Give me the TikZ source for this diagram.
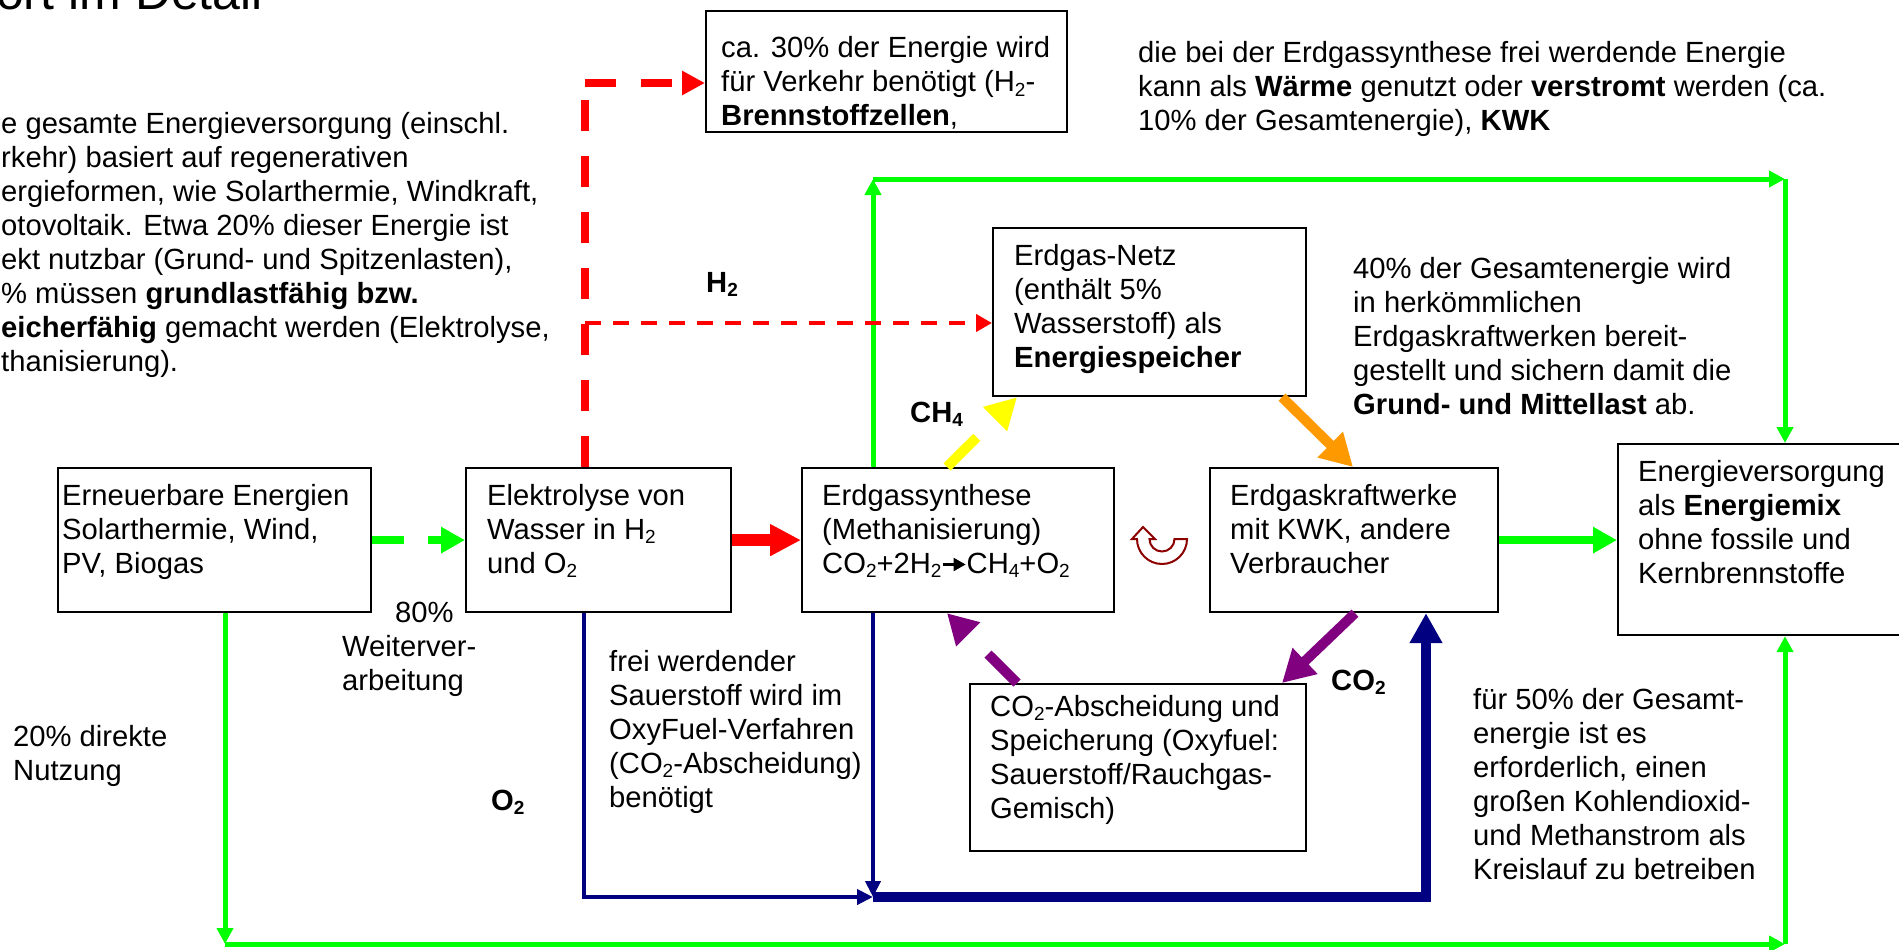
\documentclass[tikz,border=0pt]{standalone}
\usepackage{fontspec}
\setmainfont{Liberation Sans}
\usetikzlibrary{arrows.meta}
\definecolor{cgreen}{RGB}{0,255,0}
\definecolor{cred}{RGB}{255,0,0}
\definecolor{cyellow}{RGB}{255,255,0}
\definecolor{corange}{RGB}{255,153,0}
\definecolor{cpurple}{RGB}{128,0,128}
\definecolor{cnavy}{RGB}{0,0,128}
\definecolor{cmaroon}{RGB}{140,0,0}
\newcommand\subs[1]{\raisebox{-0.15em}{\fontsize{19}{19}\selectfont #1}}
\newcommand\tlines[1]{\begin{tabular}[t]{@{}l@{}}#1\end{tabular}}
\newcommand\rarr{\tikz[x=1pt,y=1pt,baseline=0pt]\draw[line width=2.2pt,-{Triangle[length=12pt,width=13pt]}] (0,8.5) -- (23,8.5);}
\begin{document}
\begin{tikzpicture}[x=1pt,y=-1pt,font=\fontsize{29.2}{34}\selectfont,
  box/.style={draw=black,line width=2.2pt,fill=white,inner sep=0pt,anchor=north west},
  txt/.style={anchor=base west,inner sep=0pt},
  lbl/.style={anchor=base west,inner sep=0pt,font=\fontsize{29.2}{34}\selectfont\bfseries},
  gline/.style={draw=cgreen,line width=5pt,-{Triangle[length=16pt,width=16pt]}},
  gthick/.style={draw=cgreen,line width=8pt,-{Triangle[length=24pt,width=25pt]}},
  gdash/.style={gthick,dash pattern=on 32pt off 24pt},
  rthick/.style={draw=cred,line width=8pt,dash pattern=on 31pt off 25pt},
  rthin/.style={draw=cred,line width=4.5pt,dash pattern=on 15.5pt off 12.5pt,-{Triangle[length=16pt,width=17pt]}},
  rsolid/.style={draw=cred,line width=12pt,-{Triangle[length=31pt,width=30pt]}},
  ydash/.style={draw=cyellow,line width=10pt,dash pattern=on 42pt off 40pt,-{Triangle[length=31pt,width=32pt]}},
  pdash/.style={draw=cpurple,line width=10pt,dash pattern=on 41pt off 40pt,-{Triangle[length=30pt,width=32pt]}},
  parr/.style={draw=cpurple,line width=10pt,-{Triangle[length=32pt,width=34pt]}},
  oarr/.style={draw=corange,line width=10pt,-{Triangle[length=32pt,width=34pt]}},
  bthin/.style={draw=cnavy,line width=4pt,-{Triangle[length=16pt,width=15pt]}},
  bthick/.style={draw=cnavy,line width=10pt,-{Triangle[length=30pt,width=31pt]}},
  cyc/.style={draw=cmaroon,line width=2pt,fill=white,line join=miter}
]
\fill[white] (0,0) rectangle (1899,950);
\useasboundingbox (0,0) rectangle (1899,950);

% boxes
\node[box,minimum width=313pt,minimum height=144pt] (b1) at (57,467) {};
\node[box,minimum width=265pt,minimum height=144pt] (b2) at (465,467) {};
\node[box,minimum width=312pt,minimum height=144pt] (b3) at (801,467) {};
\node[box,minimum width=288pt,minimum height=144pt] (b4) at (1209,467) {};
\node[box,minimum width=300pt,minimum height=191pt] (b5) at (1617,443) {};
\node[box,minimum width=361pt,minimum height=121pt] (b6) at (705,10) {};
\node[box,minimum width=313pt,minimum height=168pt] (b7) at (992,227) {};
\node[box,minimum width=336pt,minimum height=167pt] (b8) at (969,683) {};

% helper coordinates
\coordinate (gbl) at (225,944);
\coordinate (gbr) at (1785,944);
\coordinate (gtl) at (873,179);
\coordinate (gtr) at (1785,179);
\coordinate (rc) at (585,83);
\coordinate (rt) at (585,323);
\coordinate (bl1) at (584,897);
\coordinate (bl2) at (873,897);
\coordinate (bl3) at (1426,897);
\coordinate (ys) at (947,467);
\coordinate (ye) at (1017,395);
\coordinate (ps) at (1017,683);
\coordinate (pe) at (947,611);
\coordinate (os) at (1282,395);
\coordinate (oe) at (1353,467);
\coordinate (qs) at (1355,611);
\coordinate (qe) at (1282,683);

% green connectors
\draw[gline] (b1.south -| gbl) -- (gbl);
\draw[gline] (gbl) -- (gbr);
\draw[gline] (gbr) -- (b5.south -| gbr);
\draw[gline] (b3.north -| gtl) -- (gtl);
\draw[gline] (gtl) -- (gtr);
\draw[gline] (gtr) -- (b5.north -| gtr);
\draw[gdash] (b1.east) -- (b2.west);
\draw[gthick] (b4.east) -- (b4.east -| b5.west);

% red connectors
\draw[rthick] (b2.north -| rc) -- (rc);
\draw[rthick,-{Triangle[length=23pt,width=23pt]}] (rc) -- (b6.west |- rc);
\draw[rthin] (rt) -- (b7.west |- rt);
\draw[rsolid] (b2.east) -- (b3.west);

% yellow, orange, purple
\draw[ydash] (b3.north -| ys) -- (b7.south -| ye);
\draw[oarr] (b7.south -| os) -- (b4.north -| oe);
\draw[parr] (b4.south -| qs) -- (b8.north -| qe);
\draw[pdash] (b8.north -| ps) -- (b3.south -| pe);

% blue connectors
\draw[bthin] (b2.south -| bl1) -- (bl1) -- (bl2);
\draw[bthin] (b3.south -| bl2) -- (bl2);
\draw[bthick] (bl2) -- (bl3) -- (b4.south -| bl3);

% cycle symbol
\coordinate (cy) at (1162,539);
\draw[cyc,shift={(cy)}] (25,0) arc[start angle=0,end angle=180,radius=25]
  -- (-30,0) -- (-19,-12) -- (-7,0) -- (-12.5,0)
  arc[start angle=180,end angle=0,radius=12.5] -- cycle;

% title and free texts
\node[txt,font=\fontsize{50}{56}\selectfont] (title) at (-4,10) {ort im Detail};
\node[txt] (para) at (1,133) {\tlines{e gesamte Energieversorgung (einschl.\\
rkehr) basiert auf regenerativen\\
ergieformen, wie Solarthermie, Windkraft,\\
otovoltaik. Etwa 20\% dieser Energie ist\\
ekt nutzbar (Grund- und Spitzenlasten),\\
\% müssen \textbf{grundlastfähig bzw.}\\
\textbf{eicherfähig} gemacht werden (Elektrolyse,\\
thanisierung).}};
\node[txt] (ttop) at (1138,63) {\tlines{die bei der Erdgassynthese frei werdende Energie\\
kann als \textbf{Wärme} genutzt oder \textbf{verstromt} werden (ca.\\
10\% der Gesamtenergie), \textbf{KWK}}};
\node[txt] (t40) at (1353,278) {\tlines{40\% der Gesamtenergie wird\\
in herkömmlichen\\
Erdgaskraftwerken bereit-\\
gestellt und sichern damit die\\
\textbf{Grund- und Mittellast} ab.}};
\node[txt] (t50) at (1473,709) {\tlines{für 50\% der Gesamt-\\
energie ist es\\
erforderlich, einen\\
großen Kohlendioxid-\\
und Methanstrom als\\
Kreislauf zu betreiben}};
\node[txt] (tfrei) at (609,671) {\tlines{frei werdender\\
Sauerstoff wird im\\
OxyFuel-Verfahren\\
(CO\subs{2}-Abscheidung)\\
benötigt}};
\node[txt] (t80) at (342,622) {\tlines{\hspace*{53pt}80\%\\Weiterver-\\arbeitung}};
\node[txt] (t20) at (13,746) {\tlines{20\% direkte\\Nutzung}};

% bold labels
\node[lbl] (lh2) at (706,292) {H\subs{2}};
\node[lbl] (lch4) at (910,422) {CH\subs{4}};
\node[lbl] (lo2) at (491,810) {O\subs{2}};
\node[lbl] (lco2) at (1331,690) {CO\subs{2}};

% box texts
\node[txt] (x1) at (62,505) {\tlines{Erneuerbare Energien\\Solarthermie, Wind,\\PV, Biogas}};
\node[txt] (x2) at (487,505) {\tlines{Elektrolyse von\\Wasser in H\subs{2}\\und O\subs{2}}};
\node[txt] (x3) at (822,505) {\tlines{Erdgassynthese\\(Methanisierung)\\CO\subs{2}+2H\subs{2}\rarr CH\subs{4}+O\subs{2}}};
\node[txt] (x4) at (1230,505) {\tlines{Erdgaskraftwerke\\mit KWK, andere\\Verbraucher}};
\node[txt] (x5) at (1638,481) {\tlines{Energieversorgung\\als \textbf{Energiemix}\\ohne fossile und\\Kernbrennstoffe}};
\node[txt] (x6) at (721,58) {\tlines{ca. 30\% der Energie wird\\für Verkehr benötigt (H\subs{2}-\\\textbf{Brennstoffzellen},}};
\node[txt] (x7) at (1014,265) {\tlines{Erdgas-Netz\\(enthält 5\%\\Wasserstoff) als\\\textbf{Energiespeicher}}};
\node[txt] (x8) at (990,716) {\tlines{CO\subs{2}-Abscheidung und\\Speicherung (Oxyfuel:\\Sauerstoff/Rauchgas-\\Gemisch)}};
\end{tikzpicture}
\end{document}
